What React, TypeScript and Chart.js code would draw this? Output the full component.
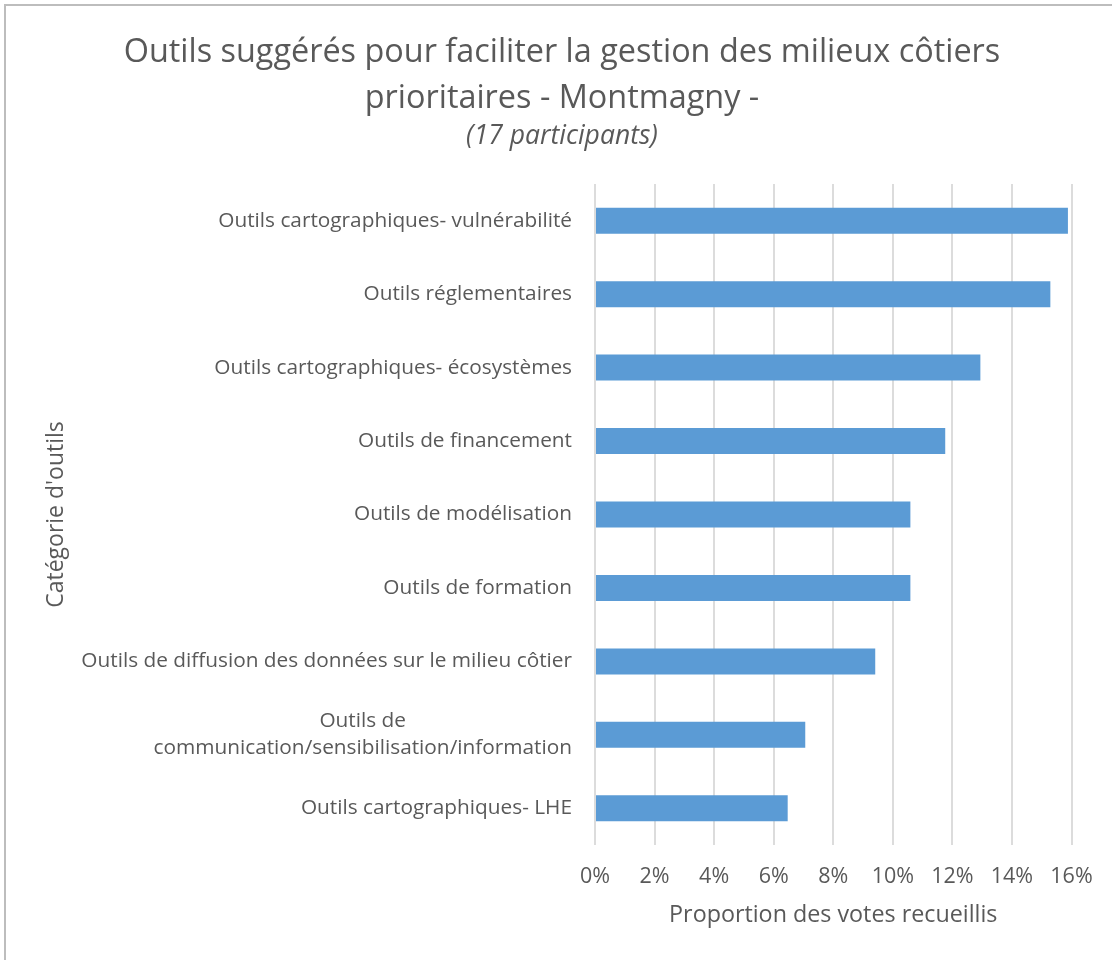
import React, { useEffect, useRef } from "react";
import { Chart, registerables } from "chart.js";

Chart.register(...registerables);

const TITLE_LINES = [
  "Outils suggérés pour faciliter la gestion des milieux côtiers",
  "prioritaires - Montmagny -",
];
const SUBTITLE = "(17 participants)";
const X_TITLE = "Proportion des votes recueillis";
const Y_TITLE = "Catégorie d'outils";

const categories: (string | string[])[] = [
  "Outils cartographiques- vulnérabilité",
  "Outils réglementaires",
  "Outils cartographiques- écosystèmes",
  "Outils de financement",
  "Outils de modélisation",
  "Outils de formation",
  "Outils de diffusion des données sur le milieu côtier",
  ["Outils de", "communication/sensibilisation/information"],
  "Outils cartographiques- LHE",
];

// share of votes, in percent
const shares = [15.88, 15.29, 12.94, 11.76, 10.59, 10.59, 9.41, 7.06, 6.47];

const xTickMin = 0;
const xTickMax = 16;
const xTickStep = 2;

const FONT = '"Open Sans", "DejaVu Sans", sans-serif';
const TEXT = "#595959";
const BAR = "#5B9BD5";
const GRID = "#DCDCDC";

const LABEL_SIZE = 20.8;
const LABEL_LINE_H = 27;
const LABEL_GAP = 23;

const PAD_LEFT = 52.5;
const PLOT_LEFT = 595;

const yLabelPlugin = {
  id: "yLabelsCentered",
  afterDraw(chart: any) {
    const scale = chart.scales.y;
    const ctx = chart.ctx as CanvasRenderingContext2D;
    ctx.save();
    ctx.font = `${LABEL_SIZE}px ${FONT}`;
    ctx.fillStyle = TEXT;
    ctx.textAlign = "center";
    ctx.textBaseline = "middle";
    const right = chart.chartArea.left - LABEL_GAP;
    categories.forEach((lab, i) => {
      const lines = Array.isArray(lab) ? lab : [lab];
      const w = Math.max(...lines.map((l) => ctx.measureText(l).width));
      const cx = right - w / 2;
      const y0 = scale.getPixelForValue(i) - ((lines.length - 1) * LABEL_LINE_H) / 2;
      lines.forEach((l, j) => ctx.fillText(l, cx, y0 + j * LABEL_LINE_H));
    });
    ctx.restore();
  },
};

export default function App() {
  const ref = useRef<HTMLCanvasElement | null>(null);

  useEffect(() => {
    let chart: Chart | null = null;
    let cancelled = false;
    const make = () => {
      if (cancelled || !ref.current) return;
      chart = new Chart(ref.current, {
        type: "bar",
        data: {
          labels: categories as any,
          datasets: [
            {
              data: shares,
              backgroundColor: BAR,
              borderWidth: 0,
              barPercentage: 0.354,
              categoryPercentage: 1,
            },
          ],
        },
        plugins: [yLabelPlugin],
        options: {
          indexAxis: "y",
          responsive: false,
          animation: false,
          devicePixelRatio: 1,
          layout: { padding: { left: PAD_LEFT, right: 40.5, top: 0, bottom: 0 } },
          plugins: {
            legend: { display: false },
            tooltip: { enabled: false },
            title: {
              display: true,
              text: TITLE_LINES,
              color: TEXT,
              font: { family: FONT, size: 32.4, weight: "normal", lineHeight: 46 / 32.4 },
              padding: { top: 29.5, bottom: 0 },
            },
            subtitle: {
              display: true,
              text: SUBTITLE,
              color: TEXT,
              font: { family: FONT, size: 26.5, style: "italic", weight: "normal", lineHeight: 1 },
              padding: { top: 1.5, bottom: 34.5 },
            },
          },
          scales: {
            x: {
              min: xTickMin,
              max: xTickMax,
              ticks: {
                stepSize: xTickStep,
                color: TEXT,
                font: { family: FONT, size: 21.5 },
                padding: 19,
                callback: (v: any) => `${v}%`,
              },
              grid: { color: GRID, lineWidth: 2, drawTicks: false },
              border: { display: false },
              title: {
                display: true,
                text: X_TITLE,
                color: TEXT,
                font: { family: FONT, size: 23.3 },
                padding: { top: 10, bottom: 31 },
              },
              afterFit: (s: any) => {
                s.height = 115;
              },
            },
            y: {
              ticks: { display: false },
              grid: { display: false },
              border: { display: false },
              title: {
                display: true,
                text: Y_TITLE,
                color: TEXT,
                font: { family: FONT, size: 23 },
                padding: { top: 43 - PAD_LEFT, bottom: 0 },
              },
              afterFit: (s: any) => {
                s.width = PLOT_LEFT - PAD_LEFT;
              },
            },
          },
        },
      } as any);
    };
    const fonts = (document as any).fonts;
    if (fonts && fonts.load) {
      Promise.all([
        fonts.load(`20px "Open Sans"`),
        fonts.load(`italic 26px "Open Sans"`),
      ])
        .catch(() => null)
        .then(make);
    } else {
      make();
    }
    return () => {
      cancelled = true;
      if (chart) chart.destroy();
    };
  }, []);

  return (
    <div
      style={{
        position: "absolute",
        left: 0,
        top: 0,
        width: 1112,
        height: 960,
        overflow: "hidden",
        background: "#ffffff",
      }}
    >
      <canvas ref={ref} width={1112} height={960} style={{ display: "block", width: 1112, height: 960 }} />
      <div
        style={{
          position: "absolute",
          left: 4,
          top: 4,
          width: 1200,
          height: 1100,
          borderLeft: "2px solid #BDBDBD",
          borderTop: "2px solid #BDBDBD",
          pointerEvents: "none",
        }}
      />
    </div>
  );
}
